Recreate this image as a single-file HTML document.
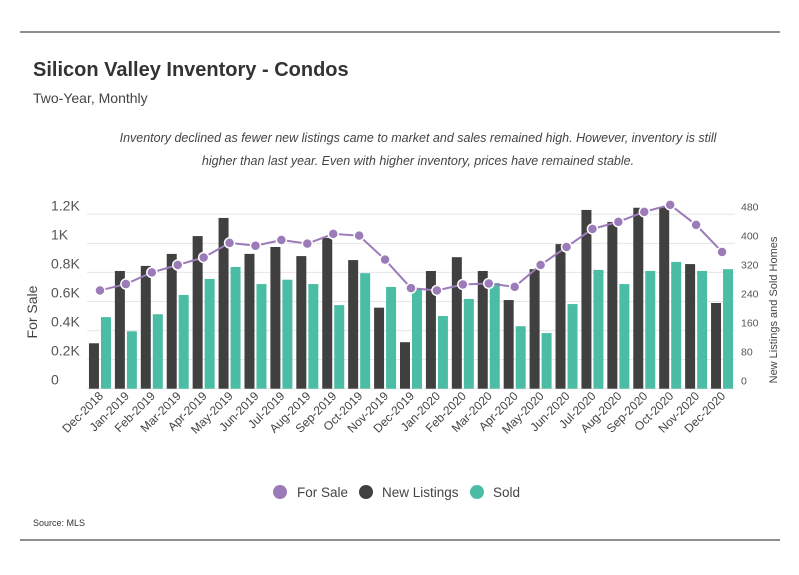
<!DOCTYPE html>
<html><head><meta charset="utf-8">
<style>
body{margin:0;background:#fff;width:799px;height:575px;overflow:hidden;font-family:"Liberation Sans",sans-serif;}
svg{display:block}
</style></head>
<body>
<svg id="chart" width="799" height="575" xmlns="http://www.w3.org/2000/svg">
<line x1="20" y1="32" x2="780" y2="32" stroke="#222" stroke-width="1"/>
<line x1="20" y1="540" x2="780" y2="540" stroke="#222" stroke-width="1"/>
<text x="33" y="76" font-size="20" font-weight="bold" fill="#333">Silicon Valley Inventory - Condos</text>
<text x="33" y="103" font-size="14" fill="#444">Two-Year, Monthly</text>
<text x="418" y="142" font-size="12.5" font-style="italic" fill="#444" text-anchor="middle">Inventory declined as fewer new listings came to market and sales remained high. However, inventory is still</text>
<text x="418" y="165" font-size="12.5" font-style="italic" fill="#444" text-anchor="middle">higher than last year. Even with higher inventory, prices have remained stable.</text>
<text transform="translate(37,312) rotate(-90)" font-size="14" fill="#444" text-anchor="middle">For Sale</text>
<text transform="translate(777,310) rotate(-90)" font-size="11" fill="#444" text-anchor="middle">New Listings and Sold Homes</text>
<g id="grid"></g><g id="bars"></g><g id="line"></g><g id="axes"></g>
<g>
<circle cx="280" cy="492" r="7" fill="#9b7bb8"/>
<text x="297" y="497" font-size="13.5" fill="#444">For Sale</text>
<circle cx="366" cy="492" r="7" fill="#404040"/>
<text x="382" y="497" font-size="13.5" fill="#444">New Listings</text>
<circle cx="477" cy="492" r="7" fill="#4bbda5"/>
<text x="493" y="497" font-size="13.5" fill="#444">Sold</text>
</g>
<text x="33" y="526" font-size="9" fill="#333">Source:  MLS</text>
</svg>
<script>
const months=["Dec-2018","Jan-2019","Feb-2019","Mar-2019","Apr-2019","May-2019","Jun-2019","Jul-2019","Aug-2019","Sep-2019","Oct-2019","Nov-2019","Dec-2019","Jan-2020","Feb-2020","Mar-2020","Apr-2020","May-2020","Jun-2020","Jul-2020","Aug-2020","Sep-2020","Oct-2020","Nov-2020","Dec-2020"];
const newListings=[125,324,338,371,420,470,371,390,365,415,354,223,128,324,362,324,244,329,398,492,459,498,500,343,236];
const sold=[197,158,205,258,302,335,288,300,288,230,318,280,277,200,247,291,172,153,233,327,288,324,349,324,329];
const forSale=[676,720,800,851,903,1003,984,1023,998,1065,1053,888,692,676,717,724,701,851,975,1099,1148,1217,1265,1127,941];
const leftTicks=[0,200,400,600,800,1000,1200];
const leftTickLabels=["0","0.2K","0.4K","0.6K","0.8K","1K","1.2K"];
const rightTicks=[0,80,160,240,320,400,480];

const NS="http://www.w3.org/2000/svg";
const X0=87,X1=735,Y0=388.7,Y1=214.3;
const step=(X1-X0)/months.length;
const yL=v=>Y0-(v/1200)*(Y0-Y1);
const yR=v=>Y0-(v/480)*(Y0-Y1);
const xc=i=>X0+step*(i+0.5);
function mk(tag,attrs,parent){const e=document.createElementNS(NS,tag);for(const k in attrs)e.setAttribute(k,attrs[k]);parent.appendChild(e);return e;}
const grid=document.getElementById('grid'),bars=document.getElementById('bars'),line=document.getElementById('line'),axes=document.getElementById('axes');
leftTicks.forEach((t,i)=>{
  const g=mk('line',{x1:X0,x2:X1,y1:yL(t),y2:yL(t),stroke:'#e6e6e6','stroke-width':1},grid);
  
  
  const tx=mk('text',{x:51,y:yL(t)-4,'font-size':14,fill:'#555'},axes);
  tx.textContent=leftTickLabels[i];
  
  
});
rightTicks.forEach(t=>{
  const tx=mk('text',{x:741,y:yR(t)-4,'font-size':10.5,fill:'#555'},axes);
  tx.textContent=t;
  
  
});
months.forEach((m,i)=>{
  const c=xc(i);
  const b1=mk('rect',{x:c-11,y:yR(newListings[i]),width:10,height:Y0-yR(newListings[i]),fill:'#404040'},bars);
  
  
  const b2=mk('rect',{x:c+1,y:yR(sold[i]),width:10,height:Y0-yR(sold[i]),fill:'#4bbda5'},bars);
  
  
  const tx=mk('text',{x:0,y:0,'font-size':12,fill:'#444','text-anchor':'end',transform:`translate(${c+4},${Y0+8}) rotate(-45)`},axes);
  tx.textContent=m;
  
  
});
const pts=forSale.map((v,i)=>xc(i)+','+yL(v)).join(' ');
const pl=mk('polyline',{points:pts,fill:'none',stroke:'#9b7bb8','stroke-width':2},line);


forSale.forEach((v,i)=>{
  const c=mk('circle',{cx:xc(i),cy:yL(v),r:5,fill:'#9b7bb8',stroke:'#fff','stroke-width':1.5},line);
  
  
});
</script>
</body></html>
